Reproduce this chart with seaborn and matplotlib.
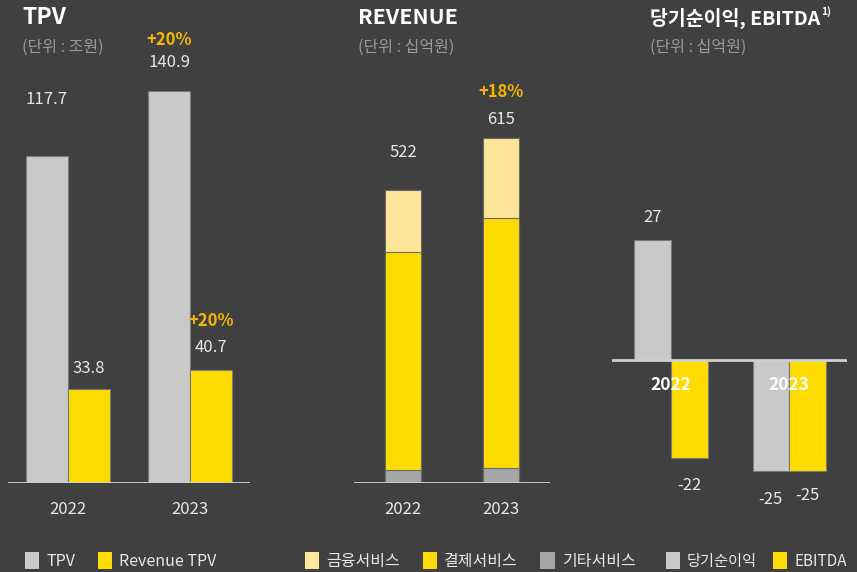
import pandas as pd
import seaborn as sns
from matplotlib import pyplot as plt
from matplotlib.patches import Patch

years = ["2022", "2023"]

# TPV (조원)
tpv = [117.7, 140.9]
revenue_tpv = [33.8, 40.7]
tpv_growth = ["", "+20%"]
rtpv_growth = ["", "+20%"]

# REVENUE (십억원)
rev_finance = [110, 143]
rev_payment = [389, 445]
rev_other = [23, 27]
rev_total = [522, 615]
rev_growth = ["", "+18%"]

# 당기순이익, EBITDA (십억원)
net_income = [27, -25]
ebitda = [-22, -25]

BG = "#404040"
GRAY = "#c9c9c9"
YELLOW = "#ffdc00"
LIGHT = "#ffe599"
DARKGRAY = "#a6a6a6"
TXT = "#e8e8e8"
GOLD = "#f5b800"
SUB = "#9a9a9a"

sns.set_theme(style="white")
plt.rcParams["font.family"] = ["Noto Sans CJK KR", "DejaVu Sans"]

W, H = 857, 572
fig = plt.figure(figsize=(W / 100, H / 100), dpi=100, facecolor=BG)


def add_ax(x0, x1, y_top, y_bot):
    ax = fig.add_axes([x0 / W, 1 - y_bot / H, (x1 - x0) / W, (y_bot - y_top) / H])
    ax.set_facecolor("none")
    for s in ax.spines.values():
        s.set_visible(False)
    ax.set_yticks([])
    return ax


def label_bar(ax, container, texts, offsets, color=TXT, size=12, weight="normal"):
    for patch, t, off in zip(container.patches, texts, offsets):
        if not t:
            continue
        x = patch.get_x() + patch.get_width() / 2
        y = patch.get_y() + patch.get_height()
        ax.annotate(t, xy=(x, y), xytext=(0, off), textcoords="offset pixels",
                    ha="center", va="center", color=color, fontsize=size, fontweight=weight)


# ---------- TPV ----------
scale1 = 2.78
ax1 = add_ax(8, 250, 483 - 150 * scale1, 483)
df1 = pd.DataFrame({"year": years * 2, "value": tpv + revenue_tpv,
                    "series": ["TPV"] * 2 + ["Revenue TPV"] * 2})
sns.barplot(data=df1, x="year", y="value", hue="series", palette=[GRAY, YELLOW],
            width=0.69, saturation=1, edgecolor="#7a7a7a", linewidth=0.8,
            legend=False, ax=ax1)
ax1.set_ylim(0, 150)
ax1.set_xlim(-0.49, 1.49)
ax1.axhline(0, color="#d0d0d0", lw=2, zorder=3)
label_bar(ax1, ax1.containers[0], [f"{v}" for v in tpv], [56, 29])
label_bar(ax1, ax1.containers[0], tpv_growth, [51, 51], color=GOLD, weight="bold")
label_bar(ax1, ax1.containers[1], [f"{v}" for v in revenue_tpv], [21, 22])
label_bar(ax1, ax1.containers[1], rtpv_growth, [49, 49], color=GOLD, weight="bold")

# ---------- REVENUE ----------
scale2 = 0.561
ax2 = add_ax(354, 550, 483 - 800 * scale2, 483)
df2 = pd.DataFrame({"year": years,
                    "total": rev_total,
                    "pay_other": [p + o for p, o in zip(rev_payment, rev_other)],
                    "other": rev_other})
for col, c in [("total", LIGHT), ("pay_other", YELLOW), ("other", DARKGRAY)]:
    sns.barplot(data=df2, x="year", y=col, color=c, width=0.367, saturation=1,
                edgecolor="#6a6a6a", linewidth=0.8, ax=ax2)
ax2.set_ylim(0, 800)
ax2.set_xlim(-0.5, 1.5)
ax2.axhline(0, color="#d0d0d0", lw=2, zorder=3)
label_bar(ax2, ax2.containers[0], [str(v) for v in rev_total], [38, 18])
label_bar(ax2, ax2.containers[0], rev_growth, [46, 46], color=GOLD, weight="bold")

for ax in (ax1, ax2):
    ax.set_ylabel("")
    ax.set_xlabel("")
    ax.tick_params(axis="x", length=0, pad=13, labelsize=12, labelcolor=TXT)

# ---------- 당기순이익, EBITDA ----------
scale3 = 4.44
ax3 = add_ax(612, 847, 360 - 35 * scale3, 360 + 30 * scale3)
df3 = pd.DataFrame({"year": years * 2, "value": net_income + ebitda,
                    "series": ["당기순이익"] * 2 + ["EBITDA"] * 2})
sns.barplot(data=df3, x="year", y="value", hue="series", palette=[GRAY, YELLOW],
            width=0.62, saturation=1, edgecolor="#7a7a7a", linewidth=0.8,
            legend=False, ax=ax3)
ax3.set_ylim(-30, 35)
ax3.set_xlim(-0.5, 1.49)
ax3.axhline(0, color="#d0d0d0", lw=2, zorder=3)
ax3.set_xticks([])
ax3.set_xlabel("")
ax3.set_ylabel("")
# label offsets in pixels (above positive bars, below negative bars)
offsets3 = [[23, 29], [28, 25]]
for c, vals, offs in zip(ax3.containers, [net_income, ebitda], offsets3):
    for patch, v, off in zip(c.patches, vals, offs):
        x = patch.get_x() + patch.get_width() / 2
        ax3.annotate(str(v), xy=(x, v), xytext=(0, off if v >= 0 else -off),
                     textcoords="offset pixels", ha="center", va="center",
                     color=TXT, fontsize=12)
for k, y in enumerate(years):
    ax3.annotate(y, xy=(k, 0), xytext=(0, -25), textcoords="offset pixels",
                 ha="center", va="center", color="white", fontsize=12.5,
                 fontweight="bold", zorder=5)

# ---------- titles ----------
for x, title, sub, fs in [(22, "TPV", "(단위 : 조원)", 16.5),
                          (358, "REVENUE", "(단위 : 십억원)", 15.5),
                          (650, "당기순이익, EBITDA", "(단위 : 십억원)", 14)]:
    t = fig.text(x / W, 1 - 18 / H, title, color="white", fontsize=fs,
                 fontweight="bold", va="center", ha="left")
    fig.text(x / W, 1 - 47 / H, sub, color=SUB, fontsize=11.5, va="center", ha="left")
ax3.annotate("1)", xy=(1, 1), xycoords=t, xytext=(1, 1), textcoords="offset pixels",
             ha="left", va="top", color="white", fontsize=7.5, fontweight="bold")


# ---------- legends ----------
def add_legend(x_px, labels, colors, fs=11.5, spacing=1.4):
    handles = [Patch(facecolor=c, edgecolor="none") for c in colors]
    fig.legend(handles, labels, loc="center left", bbox_to_anchor=(x_px / W, 1 - 561 / H),
               ncol=len(labels), frameon=False, fontsize=fs, labelcolor=TXT,
               handlelength=0.9, handleheight=1.3, handletextpad=0.45,
               columnspacing=spacing, borderpad=0, borderaxespad=0)


add_legend(25, ["TPV", "Revenue TPV"], [GRAY, YELLOW])
add_legend(305, ["금융서비스", "결제서비스", "기타서비스"], [LIGHT, YELLOW, DARKGRAY])
add_legend(666, ["당기순이익", "EBITDA"], [GRAY, YELLOW], fs=11, spacing=1.1)

fig.savefig("out.png", dpi=100, facecolor=BG)
